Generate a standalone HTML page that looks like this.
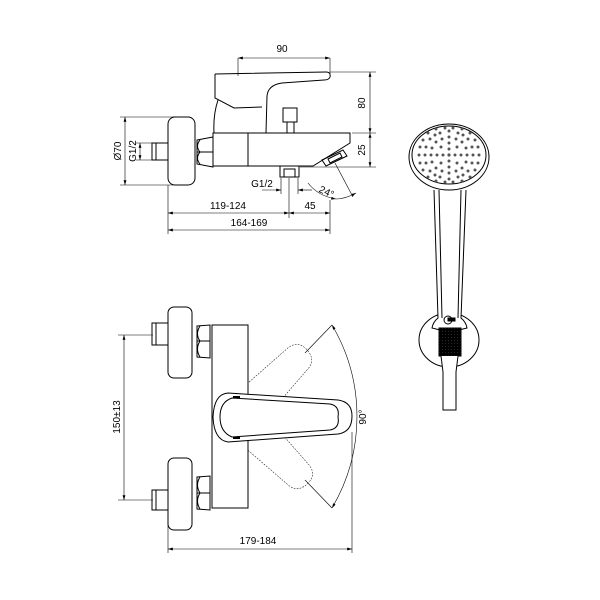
<!DOCTYPE html>
<html><head><style>html,body{margin:0;padding:0;background:#fff;}svg{display:block}</style></head>
<body>
<svg width="600" height="600" viewBox="0 0 600 600" xmlns="http://www.w3.org/2000/svg" font-family="Liberation Sans, sans-serif" font-size="10" fill="none" stroke="#000" stroke-width="1">
<defs>
<marker id="a" viewBox="0 0 10 6" refX="10" refY="3" markerWidth="8" markerHeight="5" orient="auto-start-reverse"><path d="M0,0L10,3L0,6z" fill="#000" stroke="none"/></marker>
<clipPath id="cr"><rect x="248" y="0" width="200" height="600"/></clipPath>
<pattern id="kn" width="3" height="3" patternUnits="userSpaceOnUse"><rect width="3" height="3" fill="#444"/><circle cx="1.5" cy="1.5" r="0.8" fill="#bbb"/></pattern>
<path id="hd" d="M228,393 L338,400 Q352,402 352,416 Q352,432 338,434 L228,442 Q214,440 213,417 Q214,394 228,393 Z"/>
</defs>
<!-- TOP VIEW -->
<g stroke-width="0.6">
<line x1="238" y1="58" x2="238" y2="76"/><line x1="330" y1="58" x2="330" y2="75"/>
<line x1="238" y1="58" x2="330" y2="58" marker-start="url(#a)" marker-end="url(#a)"/>
<line x1="330" y1="72" x2="376" y2="72"/><line x1="352" y1="133" x2="376" y2="133"/><line x1="300" y1="167" x2="376" y2="167"/>
<line x1="370" y1="72" x2="370" y2="133" marker-start="url(#a)" marker-end="url(#a)"/>
<line x1="370" y1="133" x2="370" y2="167" marker-start="url(#a)" marker-end="url(#a)"/>
<line x1="120" y1="117" x2="175" y2="117"/><line x1="120" y1="185" x2="175" y2="185"/>
<line x1="125" y1="117" x2="125" y2="185" marker-start="url(#a)" marker-end="url(#a)"/>
<line x1="136" y1="143" x2="153" y2="143"/><line x1="136" y1="160" x2="153" y2="160"/>
<line x1="140" y1="143" x2="140" y2="160" marker-start="url(#a)" marker-end="url(#a)"/>
<line x1="168" y1="185" x2="168" y2="234"/><line x1="289" y1="178" x2="289" y2="218"/><line x1="330" y1="200" x2="330" y2="234"/>
<line x1="281" y1="178" x2="281" y2="194"/><line x1="298" y1="178" x2="298" y2="194"/>
<line x1="262" y1="190" x2="281" y2="190" marker-end="url(#a)"/><line x1="298" y1="190" x2="312" y2="190" marker-start="url(#a)"/>
<line x1="168" y1="213" x2="289" y2="213" marker-start="url(#a)" marker-end="url(#a)"/>
<line x1="289" y1="213" x2="330" y2="213" marker-start="url(#a)" marker-end="url(#a)"/>
<line x1="168" y1="230" x2="330" y2="230" marker-start="url(#a)" marker-end="url(#a)"/>
<line x1="335" y1="163" x2="353" y2="197"/>
<path d="M308,183 Q318,196 336,199" marker-end="url(#a)"/>
<path d="M336,199 Q345,199 356,193" marker-end="url(#a)"/>
</g>
<g fill="#000" stroke="none">
<text x="282" y="52" text-anchor="middle">90</text>
<text x="228" y="209" text-anchor="middle">119-124</text>
<text x="310" y="209" text-anchor="middle">45</text>
<text x="249" y="226" text-anchor="middle">164-169</text>
<text x="262" y="187" text-anchor="middle">G1/2</text>
<text x="320" y="192" transform="rotate(25 320 188)">24°</text>
<text transform="translate(365,103) rotate(-90)" text-anchor="middle">80</text>
<text transform="translate(365,150) rotate(-90)" text-anchor="middle">25</text>
<text transform="translate(121,151) rotate(-90)" text-anchor="middle">Ø70</text>
<text transform="translate(136,151) rotate(-90)" text-anchor="middle">G1/2</text>
</g>
<path d="M215,74 L326,72 Q331,72 330,77 Q329,80 324,80 L282,83 Q268,85 267,96 L266,133"/>
<path d="M215,74 L215,98 L234,108 L262,107"/>
<path d="M218,100 Q213,115 214,133"/>
<rect x="283" y="108" width="14" height="14"/><rect x="287" y="122" width="7" height="11"/>
<path d="M213,133 L350,133 L350,143 L313,166 L213,166 Z"/>
<line x1="248" y1="133" x2="248" y2="166"/>
<path d="M322,160 L343,150 L347,156 L326,166 Z"/><path d="M328,159 L340,153 L342,157 L330,163 Z"/>
<rect x="280" y="166" width="19" height="11"/><rect x="284" y="169" width="11" height="8"/>
<path d="M197,140 L213,137 L213,167 L197,164 Z"/><line x1="197" y1="152" x2="213" y2="152"/><path d="M200,140 Q195,146 200,152 Q195,158 200,164"/>
<rect x="168" y="117" width="27" height="68" rx="7"/>
<rect x="152" y="143" width="16" height="17"/><line x1="156" y1="143" x2="156" y2="160"/>
<!-- FRONT VIEW -->
<g stroke-width="0.6">
<line x1="118" y1="335" x2="153" y2="335"/><line x1="118" y1="500" x2="153" y2="500"/>
<line x1="124" y1="335" x2="124" y2="500" marker-start="url(#a)" marker-end="url(#a)"/>
<line x1="168" y1="525" x2="168" y2="553"/><line x1="352" y1="432" x2="352" y2="553"/>
<line x1="168" y1="549" x2="352" y2="549" marker-start="url(#a)" marker-end="url(#a)"/>
<path d="M332,325 A180,180 0 0 1 332,508" marker-start="url(#a)" marker-end="url(#a)"/>
<line x1="305" y1="353" x2="332" y2="325"/><line x1="305" y1="480" x2="332" y2="508"/>
</g>
<g fill="#000" stroke="none">
<text x="258" y="544" text-anchor="middle">179-184</text>
<text transform="translate(120,417) rotate(-90)" text-anchor="middle">150±13</text>
<text transform="translate(366,417) rotate(-90)" text-anchor="middle">90°</text>
</g>
<g clip-path="url(#cr)" stroke-dasharray="2,1.5" stroke-width="0.6">
<g transform="translate(0,0) rotate(-45 240 417) scale(0.85 0.85) translate(42 73)"><use href="#hd"/></g>
<g transform="rotate(45 240 417) scale(0.85 0.85) translate(42 73)"><use href="#hd"/></g>
</g>
<rect x="212" y="325" width="36" height="183"/>
<use href="#hd" fill="#fff"/>
<path d="M232,398 L330,404 Q340,406 338,417 Q340,428 330,430 L232,437 Q220,432 220,417 Q220,402 232,398 Z"/>
<line x1="233" y1="397" x2="240" y2="397" stroke-width="2"/><line x1="233" y1="438" x2="240" y2="438" stroke-width="2"/>
<g>
<path d="M197,326 L210,325 L210,358 L197,357 Z"/><line x1="197" y1="341" x2="210" y2="341"/><path d="M200,326 Q195,334 200,341 Q195,349 200,357"/>
<rect x="168" y="307" width="24" height="71" rx="6"/>
<rect x="152" y="323" width="16" height="22"/><line x1="156" y1="323" x2="156" y2="345"/>
<path d="M197,477 L210,476 L210,510 L197,509 Z"/><line x1="197" y1="493" x2="210" y2="493"/><path d="M200,477 Q195,485 200,493 Q195,501 200,509"/>
<rect x="168" y="458" width="24" height="72" rx="6"/>
<rect x="152" y="490" width="16" height="20"/><line x1="156" y1="490" x2="156" y2="510"/>
</g>
<!-- SHOWER -->
<ellipse cx="449" cy="340" rx="30" ry="27"/>
<path d="M434,190 L438,318 Q433,322 432,328 L440,330 L459,330 L467,328 Q466,322 461,318 L466,190" fill="#fff"/>
<path d="M439,190 L442,318 M461,190 L458,318"/>
<rect x="439" y="328" width="22" height="28" fill="url(#kn)"/>
<path d="M441,356 L443,372 L443,410 L456,410 L456,372 L458,356" fill="#fff"/>
<circle cx="448" cy="320" r="4"/><rect x="448" y="318" width="7" height="3" fill="#000"/>
<ellipse cx="449" cy="157" rx="40" ry="33" fill="#fff"/>
<ellipse cx="449" cy="155" rx="37" ry="29"/>
<g fill="#555" stroke="none">
<circle cx="449" cy="155" r="1.6"/>
<circle cx="455" cy="155" r="1.5"/><circle cx="443" cy="155" r="1.5"/><circle cx="449" cy="149" r="1.5"/><circle cx="449" cy="161" r="1.5"/>
<circle cx="461" cy="155" r="1.5"/><circle cx="437" cy="155" r="1.5"/><circle cx="449" cy="143" r="1.5"/><circle cx="449" cy="167" r="1.5"/>
<circle cx="457" cy="147" r="1.5"/><circle cx="441" cy="147" r="1.5"/><circle cx="457" cy="163" r="1.5"/><circle cx="441" cy="163" r="1.5"/>
<circle cx="467" cy="155" r="1.5"/><circle cx="431" cy="155" r="1.5"/><circle cx="449" cy="137" r="1.5"/><circle cx="449" cy="173" r="1.5"/>
<circle cx="462" cy="142" r="1.5"/><circle cx="436" cy="142" r="1.5"/><circle cx="462" cy="168" r="1.5"/><circle cx="436" cy="168" r="1.5"/>
<circle cx="466" cy="148" r="1.5"/><circle cx="432" cy="148" r="1.5"/><circle cx="466" cy="162" r="1.5"/><circle cx="432" cy="162" r="1.5"/>
<circle cx="456" cy="139" r="1.5"/><circle cx="442" cy="139" r="1.5"/><circle cx="456" cy="171" r="1.5"/><circle cx="442" cy="171" r="1.5"/>
<circle cx="473" cy="155" r="1.5"/><circle cx="425" cy="155" r="1.5"/><circle cx="449" cy="131" r="1.5"/><circle cx="449" cy="179" r="1.5"/>
<circle cx="472" cy="147" r="1.5"/><circle cx="426" cy="147" r="1.5"/><circle cx="472" cy="163" r="1.5"/><circle cx="426" cy="163" r="1.5"/>
<circle cx="468" cy="139" r="1.5"/><circle cx="430" cy="139" r="1.5"/><circle cx="468" cy="171" r="1.5"/><circle cx="430" cy="171" r="1.5"/>
<circle cx="458" cy="133" r="1.5"/><circle cx="440" cy="133" r="1.5"/><circle cx="458" cy="177" r="1.5"/><circle cx="440" cy="177" r="1.5"/>
<circle cx="463" cy="135" r="1.5"/><circle cx="435" cy="135" r="1.5"/><circle cx="463" cy="175" r="1.5"/><circle cx="435" cy="175" r="1.5"/>
<circle cx="479" cy="155" r="1.5"/><circle cx="419" cy="155" r="1.5"/><circle cx="478" cy="147" r="1.5"/><circle cx="420" cy="147" r="1.5"/>
<circle cx="478" cy="163" r="1.5"/><circle cx="420" cy="163" r="1.5"/><circle cx="475" cy="140" r="1.5"/><circle cx="423" cy="140" r="1.5"/>
<circle cx="475" cy="170" r="1.5"/><circle cx="423" cy="170" r="1.5"/><circle cx="470" cy="133" r="1.5"/><circle cx="428" cy="133" r="1.5"/>
<circle cx="470" cy="177" r="1.5"/><circle cx="428" cy="177" r="1.5"/><circle cx="453" cy="128" r="1.5"/><circle cx="445" cy="128" r="1.5"/>
<circle cx="453" cy="182" r="1.5"/><circle cx="445" cy="182" r="1.5"/><circle cx="462" cy="129" r="1.5"/><circle cx="436" cy="129" r="1.5"/>
<circle cx="462" cy="181" r="1.5"/><circle cx="436" cy="181" r="1.5"/>
</g>
</svg>
</body></html>
